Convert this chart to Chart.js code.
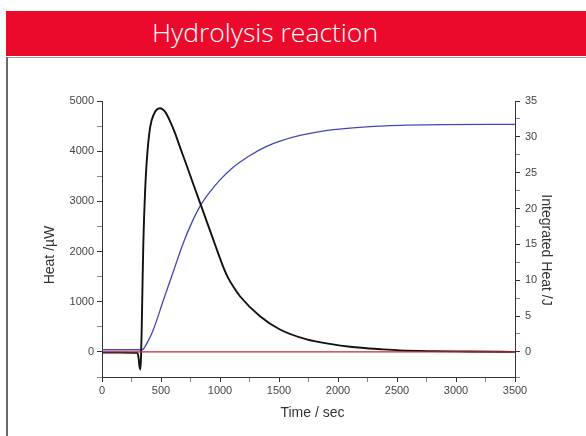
<!DOCTYPE html>
<html>
<head>
<meta charset="utf-8">
<script src="https://cdn.jsdelivr.net/npm/chart.js@4.4.1/dist/chart.umd.min.js"></script>
<style>
  html, body { margin: 0; padding: 0; background: #fff; }
  body { width: 586px; height: 436px; position: relative; overflow: hidden; }
  #banner {
    position: absolute; left: 6px; top: 11px; width: 580px; height: 45px;
    background: #eb0a2b;
  }
  #banner span {
    position: absolute; left: 259px; top: 3px; transform: translateX(-50%);
    line-height: 45px; white-space: nowrap;
    color: #fff; font: 300 26.5px "Open Sans", "Noto Sans", sans-serif;
  }
  #rule { position: absolute; left: 6px; top: 57px; width: 580px; height: 1px; background: #a0a0a0; }
  #side { position: absolute; left: 6px; top: 57px; width: 2px; height: 379px; background: #6a6a6a; }
  #chart1 { position: absolute; left: 0; top: 0; }
</style>
</head>
<body>
<div id="banner"><span>Hydrolysis reaction</span></div>
<div id="rule"></div>
<div id="side"></div>
<canvas id="chart1" width="586" height="436"></canvas>

<script>
// heat flow trace (left axis, µW)
let heatTime = [0, 150, 300, 310, 318, 324, 330, 336, 343, 350, 364, 379, 407, 440, 492, 534, 576, 619, 661, 720, 774, 845, 943, 990, 1028, 1070, 1120, 1169, 1339, 1508, 1735, 1932, 2102, 2381, 2525, 2800, 3100, 3500];
let heatValues = [-15, -15, -20, -120, -300, -350, -150, 400, 1300, 2137, 3131, 3793, 4463, 4740, 4855, 4787, 4600, 4360, 4080, 3700, 3340, 2880, 2237, 1930, 1690, 1470, 1275, 1109, 712, 447, 249, 160, 103, 50, 30, 15, 8, 0];

// integrated heat (right axis, J)
let intTime = [0, 200, 340, 380, 435, 520, 600, 689, 760, 830, 900, 1000, 1100, 1254, 1400, 1508, 1678, 1960, 2243, 2525, 2890, 3500];
let intValues = [0.3, 0.3, 0.3, 1.2, 3.1, 7.2, 11.0, 15.2, 18.0, 20.3, 22.0, 24.0, 25.6, 27.4, 28.7, 29.4, 30.2, 31.0, 31.4, 31.6, 31.7, 31.75];

// baseline (left axis)
let baseTime = [0, 3500];
let baseValues = [0, 0];

// axis ranges and tick steps
let xRange = [0, 3500], xMajor = 500, xMinor = 250;
let heatRange = [-500, 5000], heatMajor = 1000, heatMinor = 500;
let intRange = [-3.5, 35], intMajor = 5, intMinor = 2.5;

function pairs(xs, ys) {
	return xs.map((x, i) => ({x: x, y: ys[i]}));
}

let tickFont = {family: '"Liberation Sans", Arial, sans-serif', size: 11};
let axisColor = '#333';

function isMajor(v, step) {
	return Math.abs(v / step - Math.round(v / step)) < 1e-6;
}

// axis titles drawn by hand so they sit where the original has them
let axisTitles = {
	id: 'axisTitles',
	afterDraw(chart) {
		let c = chart.ctx, a = chart.chartArea;
		c.save();
		c.fillStyle = '#333';
		c.font = '14px "Liberation Sans", Arial, sans-serif';
		c.textAlign = 'center';
		c.textBaseline = 'middle';
		c.fillText('Time / sec', (a.left + a.right) / 2 + 4, a.bottom + 36);
		c.translate(a.left - 52, (a.top + a.bottom) / 2 + 16);
		c.rotate(-Math.PI / 2);
		c.fillText('Heat /\u00b5W', 0, 0);
		c.restore();
		c.save();
		c.fillStyle = '#333';
		c.font = '14px "Liberation Sans", Arial, sans-serif';
		c.textAlign = 'center';
		c.textBaseline = 'middle';
		c.translate(a.right + 31, (a.top + a.bottom) / 2 + 11);
		c.rotate(Math.PI / 2);
		c.fillText('Integrated Heat /J', 0, 0);
		c.restore();
	}
};

let ctx = document.getElementById("chart1");
let myChart = new Chart(ctx, {
	type: 'scatter',
	data: {
		datasets: [{
			data: pairs(baseTime, baseValues),
			yAxisID: 'yHeat',
			borderColor: '#c4262e',
			borderWidth: 1.4,
			showLine: true,
			pointRadius: 0,
			order: 0
		}, {
			data: pairs(heatTime, heatValues),
			yAxisID: 'yHeat',
			borderColor: '#111',
			borderWidth: 1.9,
			showLine: true,
			pointRadius: 0,
			cubicInterpolationMode: 'monotone',
			order: 1
		}, {
			data: pairs(intTime, intValues),
			yAxisID: 'yInt',
			borderColor: '#4646b4',
			borderWidth: 1.3,
			showLine: true,
			pointRadius: 0,
			cubicInterpolationMode: 'monotone',
			order: 2
		}]
	},
	options: {
		responsive: false,
		devicePixelRatio: 1,
		animation: false,
		layout: {padding: {top: 101, left: 0, right: 0, bottom: 0}},
		plugins: {legend: {display: false}, tooltip: {enabled: false}},
		scales: {
			x: {
				type: 'linear',
				min: xRange[0], max: xRange[1],
				afterFit: s => { s.height = 59; },
				grid: {drawOnChartArea: false, tickLength: 5, tickColor: c => isMajor(c.tick.value, xMajor) ? axisColor : '#888'},
				border: {color: axisColor, width: 1},
				ticks: {
					stepSize: xMinor, autoSkip: false, maxRotation: 0, padding: 2,
					color: '#444', font: tickFont,
					callback: v => isMajor(v, xMajor) ? v : ''
				}
			},
			yHeat: {
				type: 'linear', position: 'left',
				min: heatRange[0], max: heatRange[1],
				afterFit: s => { s.width = 102; },
				grid: {drawOnChartArea: false, tickLength: 5, tickColor: c => isMajor(c.tick.value, heatMajor) ? axisColor : '#888'},
				border: {color: axisColor, width: 1},
				ticks: {
					stepSize: heatMinor, autoSkip: false, padding: 3,
					color: '#444', font: tickFont,
					callback: v => (isMajor(v, heatMajor) && v >= 0) ? v : ''
				}
			},
			yInt: {
				type: 'linear', position: 'right',
				min: intRange[0], max: intRange[1],
				afterFit: s => { s.width = 71; },
				grid: {drawOnChartArea: false, tickLength: 5, tickColor: c => isMajor(c.tick.value, intMajor) ? axisColor : '#888'},
				border: {color: axisColor, width: 1},
				ticks: {
					stepSize: intMinor, autoSkip: false, padding: 5,
					color: '#444', font: tickFont,
					callback: v => (isMajor(v, intMajor) && v >= 0) ? v : ''
				}
			}
		}
	},
	plugins: [axisTitles]
});
</script>
</body>
</html>
